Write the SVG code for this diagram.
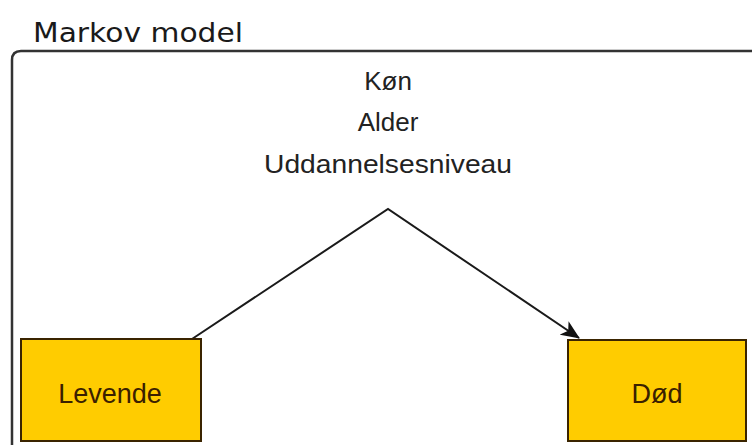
<svg xmlns="http://www.w3.org/2000/svg" width="753" height="445" viewBox="0 0 753 445">
<style>
.title{font-family:"DejaVu Sans",Verdana,sans-serif;font-size:27px;fill:#1a1a1a}
.lbl{font-family:"Liberation Sans",Arial,sans-serif;font-size:26px;fill:#222;text-anchor:middle}
.box rect{fill:#FFCC00;stroke:#3a2400;stroke-width:2}
.box text{font-family:"Liberation Sans",Arial,sans-serif;font-size:27px;fill:#3a2000;text-anchor:middle}
.conn{fill:none;stroke:#1a1a1a;stroke-width:2}
</style>
<defs>
<marker id="arr" markerWidth="19" markerHeight="16" refX="18" refY="8" orient="auto" markerUnits="userSpaceOnUse">
<path d="M0,0 L19,8 L0,16 L5,8 Z" fill="#111"/>
</marker>
</defs>
<rect width="753" height="445" fill="#fff"/>
<g id="frame">
<path d="M12,460 L12,60 Q12,51 21,51 L752,51" fill="none" stroke="#333" stroke-width="2.5"/>
<text class="title" x="33" y="42" textLength="210" lengthAdjust="spacingAndGlyphs">Markov model</text>
</g>
<g id="factors">
<text class="lbl" x="388" y="90">Køn</text>
<text class="lbl" x="388" y="131">Alder</text>
<text class="lbl" x="388" y="173" textLength="248" lengthAdjust="spacingAndGlyphs">Uddannelsesniveau</text>
</g>
<g id="connectors">
<polyline class="conn" points="192,339 388,209 579,338" marker-end="url(#arr)"/>
</g>
<g id="levende" class="box">
<rect x="21" y="339" width="180" height="102"/>
<text x="110" y="403">Levende</text>
</g>
<g id="doed" class="box">
<rect x="568" y="340" width="178" height="101"/>
<text x="657" y="403">Død</text>
</g>
</svg>
